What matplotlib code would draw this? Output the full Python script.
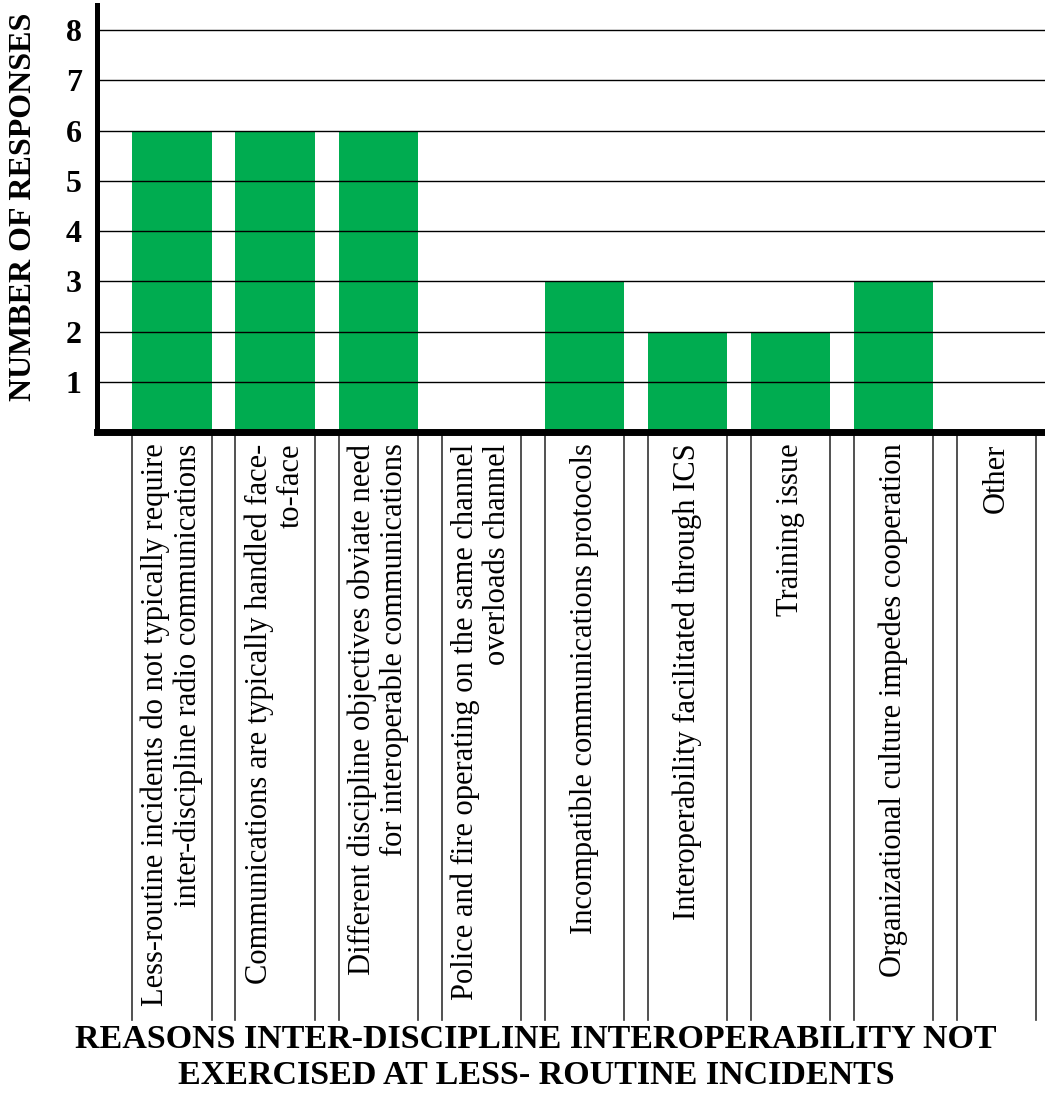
import matplotlib
matplotlib.use("Agg")
import matplotlib.pyplot as plt

# -------------------------------------------------------------------------
# Daten
# -------------------------------------------------------------------------
kategorien = [
    "Less-routine incidents do not typically require\ninter-discipline radio communications",
    "Communications are typically handled face-\nto-face",
    "Different discipline objectives obviate need\nfor interoperable communications",
    "Police and fire operating on the same channel\noverloads channel",
    "Incompatible communications protocols",
    "Interoperability facilitated through ICS",
    "Training issue",
    "Organizational culture impedes cooperation",
    "Other",
]
antworten = [6, 6, 6, 0, 3, 2, 2, 3, 0]
y_ticks = [1, 2, 3, 4, 5, 6, 7, 8]

GRUEN = "#00AC50"

plt.rcParams.update({
    "font.family": ["Liberation Serif", "DejaVu Serif"],
})

fig = plt.figure(figsize=(10.45, 10.95), dpi=100)
ax = fig.add_axes([0.0928, 0.6055, 0.9072, 0.3899])

x = list(range(len(kategorien)))
breite = 0.77
ax.bar(x, antworten, width=breite, color=GRUEN, zorder=2)

# Gitterlinien über den Balken
for t in y_ticks:
    ax.axhline(t, color="black", linewidth=1.0, zorder=3)

ax.set_xlim(-0.729, 8.47)
ax.set_ylim(0, 8.5)
ax.set_xticks([])
ax.set_yticks(y_ticks)
ax.set_yticklabels([str(t) for t in y_ticks], fontsize=23, fontweight="bold")
ax.tick_params(axis="y", length=0, pad=11)

for s in ["top", "right"]:
    ax.spines[s].set_visible(False)
ax.spines["left"].set_linewidth(3.6)
ax.spines["bottom"].set_linewidth(5)
ax.spines["bottom"].set_zorder(4)

# Tabellenartige Beschriftung unter der Achse
trans = ax.get_xaxis_transform()
for i, lab in enumerate(kategorien):
    for kante in (i - breite / 2, i + breite / 2):
        ax.plot([kante, kante], [-0.01, -1.377], transform=trans,
                color="#333333", linewidth=1.2, clip_on=False)
    ax.text(i, -0.027, lab, transform=trans, rotation=90,
            ha="center", va="top", multialignment="right",
            fontsize=22, linespacing=1.15)

fig.text(24 / 1045, 1 - 207 / 1095, "NUMBER OF RESPONSES", rotation=90,
         ha="center", va="center", fontsize=23, fontweight="bold")
# Achsentitel unten, knapp über dem Bildrand
fig.text(536 / 1045, 4 / 1095,
         "REASONS INTER-DISCIPLINE INTEROPERABILITY NOT\nEXERCISED AT LESS- ROUTINE INCIDENTS",
         ha="center", va="bottom", multialignment="center",
         fontsize=24.5, fontweight="bold", linespacing=1.22)

fig.savefig("out.png", dpi=100)
